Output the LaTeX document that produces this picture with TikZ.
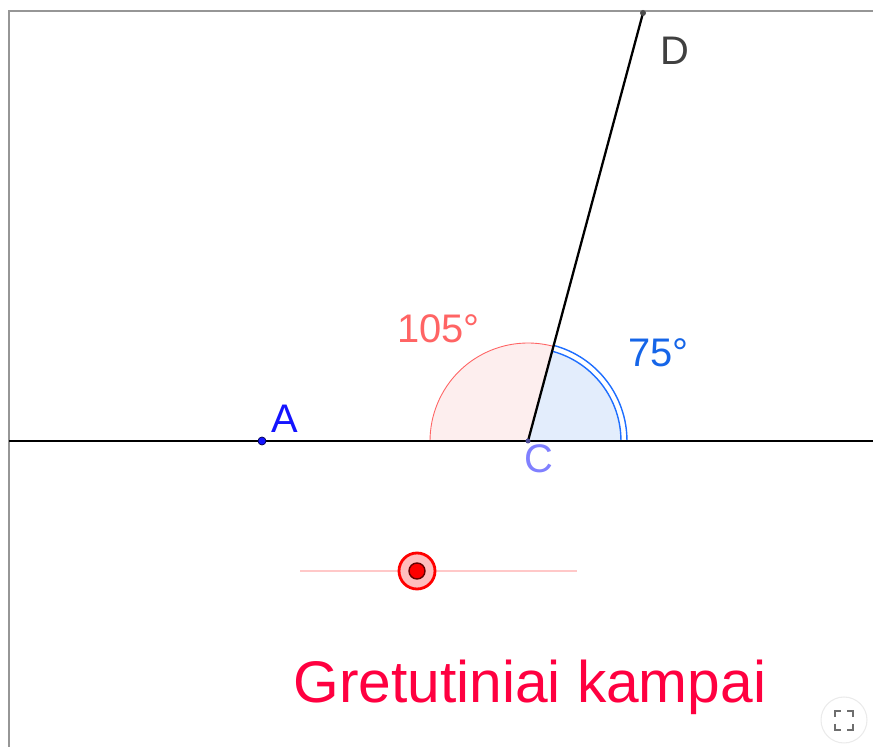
\documentclass[tikz,border=0pt]{standalone}
\usepackage{fontspec}
\setmainfont{Liberation Sans}
\definecolor{frameGray}{RGB}{150,150,150}
\definecolor{redArc}{RGB}{255,100,100}
\definecolor{redFill}{RGB}{253,238,238}
\definecolor{blueArc}{RGB}{30,110,255}
\definecolor{blueFill}{RGB}{227,237,252}
\definecolor{blueText}{RGB}{21,101,232}
\definecolor{pointA}{RGB}{20,20,255}
\definecolor{pointC}{RGB}{128,128,255}
\definecolor{titleRed}{RGB}{255,0,64}
\definecolor{sliderLine}{RGB}{255,200,200}
\definecolor{knobFill}{RGB}{255,190,190}
\definecolor{iconGray}{RGB}{110,110,110}
\tikzset{
  lbl/.style={font=\fontsize{22.7}{27}\selectfont, anchor=base west, inner sep=0pt},
  ptdot/.style={circle, inner sep=0pt, minimum size=#1},
}
\begin{document}
\begin{tikzpicture}[x=0.02cm,y=0.02cm]
    % define point
    \useasboundingbox (0,0) rectangle (873,747);
    \coordinate (L) at (9,306);
    \coordinate (R) at (873,306);
    \coordinate (A) at (262,306);
    \coordinate (C) at (528,306);
    \coordinate (D) at (643,734);
    % frame
    \draw[frameGray, line width=0.9pt] (9,0) -- (9,736) -- (873,736);
    % angles
    \fill[redFill] (C) -- ++(75:1.96cm) arc (75:180:1.96cm) -- cycle;
    \draw[redArc, line width=0.5pt] (C) ++(75:1.96cm) arc (75:180:1.96cm);
    \fill[blueFill] (C) -- ++(0:1.86cm) arc (0:75:1.86cm) -- cycle;
    \draw[blueArc, line width=0.8pt] (C) ++(0:1.86cm) arc (0:75:1.86cm);
    \draw[blueArc, line width=0.8pt] (C) ++(0:1.98cm) arc (0:75:1.98cm);
    % lines
    \draw[line width=1.3pt] (L) -- (R);
    \draw[line width=1.3pt] (C) -- (D);
    % points
    \node[ptdot=0.16cm, fill=pointA, draw=black!70!blue, line width=0.4pt] (dotA) at (A) {};
    \node[ptdot=0.1cm, fill=pointC!60!black] (dotC) at (C) {};
    \node[ptdot=0.12cm, fill=black!70] (dotD) at (D) {};
    % labels
    \node[lbl, text=pointA] (lblA) at (271,314) {A};
    \node[lbl, text=pointC] (lblC) at (524,274) {C};
    \node[lbl, text=black!75] (lblD) at (660,682) {D};
    \node[lbl, text=redArc] (lbl105) at (397,404) {105°};
    \node[lbl, text=blueText] (lbl75) at (628,380) {75°};
    % slider
    \coordinate (sL) at (300,176);
    \coordinate (sR) at (577,176);
    \draw[sliderLine, line width=1.7pt] (sL) -- (sR);
    \node[circle, inner sep=0pt, minimum size=0.72cm, fill=knobFill, draw=red, line width=1.6pt] (knob) at (417,176) {};
    \node[circle, inner sep=0pt, minimum size=0.32cm, fill=red, draw=black!60!red, line width=0.8pt] (knobIn) at (knob) {};
    % title
    \node[anchor=base west, inner sep=0pt, text=titleRed, font=\fontsize{33.4}{40}\selectfont] (title) at (293,44) {Gretutiniai kampai};
    % fullscreen icon
    \node[circle, inner sep=0pt, minimum size=0.92cm, fill=white, draw=black!8, line width=0.6pt] (icon) at (844,27) {};
    \draw[iconGray, line width=1.4pt] (835,23) -- (835,17) -- (841,17);
    \draw[iconGray, line width=1.4pt] (847,17) -- (853,17) -- (853,23);
    \draw[iconGray, line width=1.4pt] (835,30) -- (835,36) -- (841,36);
    \draw[iconGray, line width=1.4pt] (847,36) -- (853,36) -- (853,30);
\end{tikzpicture}
\end{document}
